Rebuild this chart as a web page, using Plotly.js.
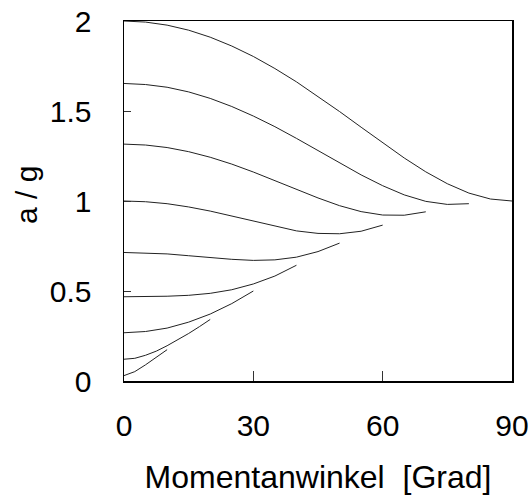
<!DOCTYPE html>
<html>
<head>
<meta charset="utf-8">
<script src="https://cdn.plot.ly/plotly-3.0.1.min.js"></script>
<style>html,body{margin:0;padding:0;background:#fff;}#chart{width:530px;height:495px;}</style>
</head>
<body>
<div id="chart"></div>
<script>
// Amplitudes (degrees) of each curve
const amplitudes = [90, 80, 70, 60, 50, 40, 30, 20, 10];

// Momentary angle samples (degrees) for each curve
const angles90 = [0,5,10,15,20,25,30,35,40,45,50,55,60,65,70,75,80,85,90];
const accel90  = [2.000,1.994,1.977,1.949,1.910,1.861,1.803,1.736,1.662,1.581,1.497,1.410,1.323,1.239,1.162,1.096,1.044,1.011,1.000];

const angles80 = [0,5,10,15,20,25,30,35,40,45,50,55,60,65,70,75,80];
const accel80  = [1.653,1.647,1.632,1.606,1.570,1.525,1.472,1.413,1.348,1.280,1.211,1.145,1.085,1.034,0.998,0.981,0.985];

const angles70 = [0,5,10,15,20,25,30,35,40,45,50,55,60,65,70];
const accel70  = [1.316,1.311,1.297,1.274,1.243,1.205,1.161,1.113,1.064,1.017,0.974,0.941,0.922,0.921,0.940];

const angles60 = [0,5,10,15,20,25,30,35,40,45,50,55,60];
const accel60  = [1.000,0.996,0.985,0.967,0.944,0.916,0.887,0.858,0.834,0.820,0.818,0.832,0.866];

const angles50 = [0,5,10,15,20,25,30,35,40,45,50];
const accel50  = [0.714,0.712,0.706,0.696,0.685,0.676,0.670,0.673,0.688,0.719,0.766];

const angles40 = [0,5,10,15,20,25,30,35,40];
const accel40  = [0.468,0.469,0.471,0.476,0.487,0.507,0.539,0.583,0.643];

const angles30 = [0,5,10,15,20,25,30];
const accel30  = [0.268,0.275,0.294,0.327,0.372,0.430,0.500];

const angles20 = [0,2.5,5,7.5,10,12.5,15,17.5,20];
const accel20  = [0.121,0.126,0.143,0.166,0.196,0.228,0.264,0.302,0.342];

const angles10 = [0,2.5,5,7.5,10];
const accel10  = [0.030,0.052,0.090,0.131,0.174];

const xTickVals = [0, 30, 60, 90];
const xTickText = ['0', '30', '60', '90'];
const yTickVals = [0, 0.5, 1, 1.5, 2];
const yTickText = ['0', '0.5', '1', '1.5', '2'];
const xTitle = 'Momentanwinkel\u00a0\u00a0[Grad]';
const yTitle = 'a / g';

const series = [
  [angles90, accel90], [angles80, accel80], [angles70, accel70],
  [angles60, accel60], [angles50, accel50], [angles40, accel40],
  [angles30, accel30], [angles20, accel20], [angles10, accel10]
];

const traces = series.map((s, i) => ({
  x: s[0], y: s[1], type: 'scatter', mode: 'lines',
  name: amplitudes[i] + '°',
  line: {color: '#222', width: 1},
  hoverinfo: 'skip'
}));

const fam = '"Liberation Sans", Arial, sans-serif';

const layout = {
  width: 530, height: 495,
  margin: {l: 124, r: 18, t: 21, b: 114, pad: 0},
  paper_bgcolor: '#fff', plot_bgcolor: '#fff',
  showlegend: false,
  font: {family: fam, color: '#000', size: 30},
  xaxis: {
    range: [0, 90], tickvals: xTickVals, ticktext: xTickText,
    ticks: 'inside', ticklen: 10, tickwidth: 1, tickcolor: '#333',
    showline: true, mirror: true, linecolor: '#000', linewidth: 1.5,
    showgrid: false, zeroline: false,
    ticklabelstandoff: 17,
    tickfont: {family: fam, size: 30, color: '#000'},
    title: {text: xTitle, font: {family: fam, size: 32, color: '#000'}}
  },
  yaxis: {
    range: [0, 2], tickvals: yTickVals, ticktext: yTickText,
    ticks: 'inside', ticklen: 7, tickwidth: 1, tickcolor: '#333',
    showline: true, mirror: true, linecolor: '#000', linewidth: 1.5,
    showgrid: false, zeroline: false,
    ticklabelstandoff: 25,
    tickfont: {family: fam, size: 30, color: '#000'}
  },
  annotations: [{
    text: yTitle, xref: 'paper', yref: 'paper', x: 0, y: 0.5,
    xanchor: 'center', yanchor: 'middle', xshift: -98, yshift: 6,
    textangle: -90, showarrow: false,
    font: {family: fam, size: 30, color: '#000'}
  }]
};

Plotly.newPlot('chart', traces, layout, {staticPlot: true, displayModeBar: false});
</script>
</body>
</html>
